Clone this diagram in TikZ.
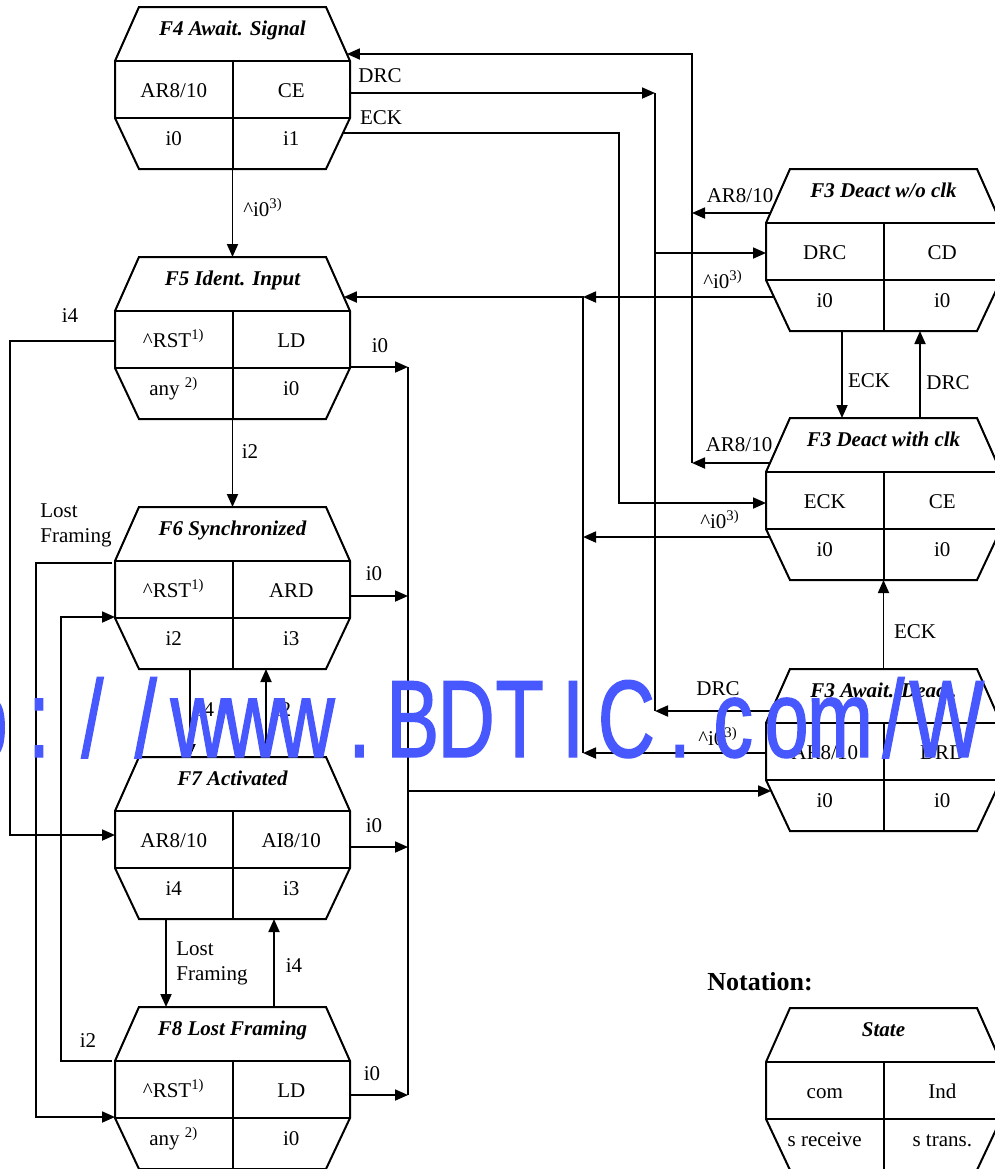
\documentclass[tikz,border=0pt]{standalone}
\usepackage{fontspec}
\setmainfont{Liberation Serif}
\newfontfamily\wmfont[FakeStretch=0.72, FakeBold=1.2]{Liberation Sans}
\usetikzlibrary{calc,arrows.meta}
\definecolor{wmblue}{RGB}{72,88,255}
\newcommand\lblfont{\fontsize{10.5}{12.5}\selectfont}
\newcommand\ttlfont{\fontsize{10.5}{12.5}\selectfont\bfseries\itshape}
\newcommand\supx[1]{\textsuperscript{#1}}
\newcommand\crt{\textasciicircum}
\tikzset{
 stbox/.style={minimum width=117.5pt, minimum height=81pt, inner sep=0pt, outer sep=0pt},
 stline/.style={line width=1pt},
 conn/.style={line width=0.9pt},
 arr/.style={conn, -{Triangle[length=6.5pt,width=5.5pt]}},
 lbl/.style={font=\lblfont, inner sep=0pt, anchor=base},
 ttl/.style={font=\ttlfont, inner sep=0pt, anchor=base},
 wm/.style={font=\wmfont\fontsize{55}{60}\selectfont, text=wmblue, inner sep=0pt, anchor=base},
}
\newcommand\mkstate[7]{%
 \node[stbox] (#1) at #2 {};
 \draw[stline] ($(#1.north west)+(24,0)$) -- ($(#1.north east)+(-24,0)$) -- ($(#1.north east)+(0,54)$) -- ($(#1.north east)+(0,111)$) -- ($(#1.south east)+(-24,0)$) -- ($(#1.south west)+(24,0)$) -- ($(#1.north west)+(0,111)$) -- ($(#1.north west)+(0,54)$) -- cycle;
 \draw[stline] ($(#1.north west)+(0,54)$) -- ($(#1.north east)+(0,54)$);
 \draw[stline] ($(#1.north west)+(0,111)$) -- ($(#1.north east)+(0,111)$);
 \draw[stline] ($(#1.north)+(0,54)$) -- (#1.south);
 \node[ttl] (#1-t) at ($(#1.north)+(0,28)$) {#3};
 \node[lbl] (#1-a) at ($(#1.north)+(-58.75,90)$) {#4};
 \node[lbl] (#1-b) at ($(#1.north)+(58.75,90)$) {#5};
 \node[lbl] (#1-c) at ($(#1.north)+(-58.75,138)$) {#6};
 \node[lbl] (#1-d) at ($(#1.north)+(58.75,138)$) {#7};
}
\newcommand\wmch[3]{\node[wm] (#1) at (#2,757) {#3};}
\begin{document}
\begin{tikzpicture}[x=0.5pt,y=-0.5pt]
\useasboundingbox (0,0) rectangle (995,1169);
\clip (0,0) rectangle (995,1169);

% states
\mkstate{F4}{(232.5,88)}{F4 Await. Signal}{AR8/10}{CE}{i0}{i1}
\mkstate{F5}{(232.5,338)}{F5 Ident. Input}{\crt RST\supx{1)}}{LD}{any \supx{2)}}{i0}
\mkstate{F6}{(232.5,588)}{F6 Synchronized}{\crt RST\supx{1)}}{ARD}{i2}{i3}
\mkstate{F7}{(232.5,838)}{F7 Activated}{AR8/10}{AI8/10}{i4}{i3}
\mkstate{F8}{(232.5,1088)}{F8 Lost Framing}{\crt RST\supx{1)}}{LD}{any \supx{2)}}{i0}
\mkstate{R1}{(883.5,250)}{F3 Deact w/o clk}{DRC}{CD}{i0}{i0}
\mkstate{R2}{(883.5,499)}{F3 Deact with clk}{ECK}{CE}{i0}{i0}
\mkstate{R3}{(883.5,750)}{F3 Await. Deact.}{AR8/10}{DRD}{i0}{i0}
\mkstate{N}{(883.5,1089)}{State}{com}{Ind}{s receive}{s trans.}

% collector columns
\coordinate (xAR) at (692,0);
\coordinate (xDRC) at (655,0);
\coordinate (xECK) at (619,0);
\coordinate (xI0) at (583,0);
\coordinate (xOUT) at (408,0);
\coordinate (xI4) at (10,0);
\coordinate (xLF) at (36,0);
\coordinate (xI2) at (61,0);

% AR8/10 back to F4
\coordinate (a1) at ($(R1.north west)+(4.4,44)$);
\coordinate (a2) at ($(R2.north west)+(4,45)$);
\coordinate (a3) at ($(F4.north east)+(-3.1,47)$);
\draw[arr] (a1) -- (a1 -| xAR);
\draw[arr] (a2) -- (a2 -| xAR);
\draw[arr] (a2 -| xAR) -- (a3 -| xAR) -- (a3);

% DRC to F3 w/o clk
\coordinate (b1) at ($(F4.north east)+(0,86)$);
\coordinate (b2) at ($(R1.north west)+(0,84)$);
\coordinate (b3) at ($(R3.north west)+(5.3,42)$);
\draw[arr] (b1) -- (b1 -| xDRC);
\draw[conn] (b1 -| xDRC) -- (b3 -| xDRC);
\draw[arr] (b2 -| xDRC) -- (b2);
\draw[arr] (b3) -- (b3 -| xDRC);

% ECK to F3 with clk
\coordinate (c1) at ($(F4.north east)+(-7,126)$);
\coordinate (c2) at ($(R2.north west)+(0,85)$);
\draw[arr] (c1) -- (c1 -| xECK) -- (c2 -| xECK) -- (c2);

% ^i0 back to F5
\coordinate (d0) at ($(F5.north east)+(-6.2,40)$);
\coordinate (d1) at ($(R1.north west)+(8,128)$);
\coordinate (d2) at ($(R2.north west)+(3.8,119)$);
\coordinate (d3) at ($(R3.north west)+(0,84)$);
\draw[arr] (d1) -- (d1 -| xI0);
\draw[arr] (d2) -- (d2 -| xI0);
\draw[arr] (d3) -- (d3 -| xI0);
\draw[arr] (d3 -| xI0) -- (d0 -| xI0) -- (d0);

% vertical transitions
\draw[arr] ($(R1.south)+(-41.5,0)$) -- ($(R2.north)+(-41.5,0)$);
\draw[arr] ($(R2.north)+(36.5,0)$) -- ($(R1.south)+(36.5,0)$);
\draw[arr] (R3.north) -- (R2.south);
\draw[arr] (F4.south) -- (F5.north);
\draw[arr] (F5.south) -- (F6.north);
\draw[arr] ($(F6.south)+(-42.5,0)$) -- ($(F7.north)+(-42.5,0)$);
\draw[arr] ($(F7.north)+(33.5,0)$) -- ($(F6.south)+(33.5,0)$);
\draw[arr] ($(F7.south)+(-66.5,0)$) -- ($(F8.north)+(-66.5,0)$);
\draw[arr] ($(F8.north)+(41.5,0)$) -- ($(F7.south)+(41.5,0)$);

% i0 outputs to F3 Await. Deact.
\coordinate (e1) at ($(F5.north east)+(0,110)$);
\coordinate (e2) at ($(F6.north east)+(0,89)$);
\coordinate (e3) at ($(F7.north east)+(0,90)$);
\coordinate (e4) at ($(F8.north east)+(0,88)$);
\coordinate (e5) at ($(R3.north west)+(5.2,122)$);
\foreach \e in {e1,e2,e3,e4} \draw[arr] (\e) -- (\e -| xOUT);
\draw[conn] (e1 -| xOUT) -- (e4 -| xOUT);
\draw[arr] (e5 -| xOUT) -- (e5);

% left loops
\coordinate (f1) at ($(F5.north west)+(0,84)$);
\coordinate (f2) at ($(F7.north west)+(0,78)$);
\draw[arr] (f1) -- (f1 -| xI4) -- (f2 -| xI4) -- (f2);
\coordinate (g1) at ($(F6.north west)+(-3,56)$);
\coordinate (g2) at ($(F8.north west)+(0,110)$);
\draw[arr] (g1) -- (g1 -| xLF) -- (g2 -| xLF) -- (g2);
\coordinate (h1) at ($(F8.north west)+(-3,54)$);
\coordinate (h2) at ($(F6.north west)+(0,110)$);
\draw[arr] (h1) -- (h1 -| xI2) -- (h2 -| xI2) -- (h2);

% labels
\node[lbl] (l1) at (740,202) {AR8/10};
\node[lbl] (l2) at (739,451) {AR8/10};
\node[lbl] (l3) at (380,82) {DRC};
\node[lbl] (l4) at (381,124) {ECK};
\node[lbl] (l5) at (718,695) {DRC};
\node[lbl] (l6) at (723,288) {\crt i0\supx{3)}};
\node[lbl] (l7) at (720,528) {\crt i0\supx{3)}};
\node[lbl] (l8) at (718,745) {\crt i0\supx{3)}};
\node[lbl] (l9) at (869,387) {ECK};
\node[lbl] (l10) at (948,389) {DRC};
\node[lbl] (l11) at (915,638) {ECK};
\node[lbl] (l12) at (263,216) {\crt i0\supx{3)}};
\node[lbl] (l13) at (250,458) {i2};
\node[lbl] (l14) at (380,352) {i0};
\node[lbl] (l15) at (374,580) {i0};
\node[lbl] (l16) at (374,832) {i0};
\node[lbl] (l17) at (372,1080) {i0};
\node[lbl] (l18) at (70,322) {i4};
\node[lbl, align=left, anchor=north west] (l19) at (40,503) {Lost\\Framing};
\node[lbl] (l20) at (88,1047) {i2};
\node[lbl] (l21) at (206,716) {i4};
\node[lbl] (l22) at (283,716) {i2};
\node[lbl, align=left, anchor=north west] (l23) at (176,941) {Lost\\Framing};
\node[lbl] (l24) at (294,972) {i4};
\node[anchor=base west, inner sep=0pt, font=\fontsize{13}{15}\selectfont\bfseries] (nt) at (707,990) {Notation:};

% watermark
\wmch{w0}{-14.4}{p}
\wmch{w1}{39}{:}
\wmch{w2}{92.4}{/}
\wmch{w3}{145.8}{/}
\wmch{w4}{199.2}{w}
\wmch{w5}{252.6}{w}
\wmch{w6}{306}{w}
\wmch{w7}{359.4}{.}
\wmch{w8}{412.8}{B}
\wmch{w9}{466.2}{D}
\wmch{w10}{519.6}{T}
\wmch{w11}{573}{I}
\wmch{w12}{626.4}{C}
\wmch{w13}{679.8}{.}
\wmch{w14}{733.2}{c}
\wmch{w15}{786.6}{o}
\wmch{w16}{840}{m}
\wmch{w17}{893.4}{/}
\wmch{w18}{946.8}{W}
\end{tikzpicture}
\end{document}
